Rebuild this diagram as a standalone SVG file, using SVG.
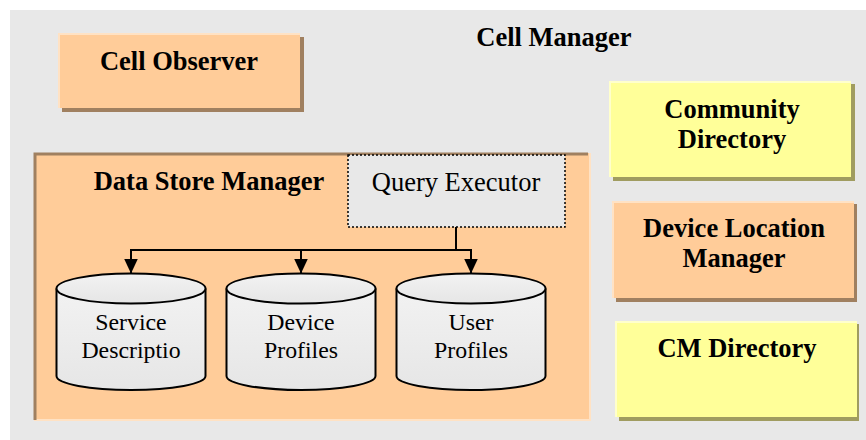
<svg xmlns="http://www.w3.org/2000/svg" width="866" height="440" viewBox="0 0 866 440">
  <style>
    text { font-family: "Liberation Serif", "Times New Roman", Tinos, serif; fill: #000; text-anchor: middle; }
    .bold { font-weight: bold; font-size: 26.5px; }
    .reg { font-size: 26.5px; }
    .cyl-text { font-size: 23.8px; }
    .orange { fill: #ffcc99; }
    .yellow { fill: #ffff99; }
    .shadow-o { fill: #a08060; }
    .shadow-y { fill: #a09c60; }
    .hi-o { stroke: #ffe2c4; stroke-width: 2; fill: none; }
    .hi-y { stroke: #ffffcc; stroke-width: 2; fill: none; }
    .cyl { fill: url(#cylFill); stroke: #000; stroke-width: 2; }
    .wire { stroke: #000; stroke-width: 2; fill: none; }
  </style>
  <defs>
    <linearGradient id="cylFill" x1="0" y1="0" x2="0" y2="1">
      <stop offset="0" stop-color="#f2f2f2"/>
      <stop offset="1" stop-color="#e6e6e6"/>
    </linearGradient>
    <marker id="arrow" viewBox="0 0 15 14" refX="15" refY="7" markerWidth="15" markerHeight="14" markerUnits="userSpaceOnUse" orient="auto">
      <path d="M0,0 L15,7 L0,14 Z" fill="#000"/>
    </marker>
  </defs>

  <!-- Cell Manager container -->
  <g id="cell-manager">
    <rect x="10" y="10" width="856" height="430" fill="#e8e8e8"/>
    <text class="bold" x="554" y="46">Cell Manager</text>
  </g>

  <!-- Cell Observer -->
  <g id="cell-observer">
    <rect class="shadow-o" x="62" y="37" width="242" height="75"/>
    <rect class="orange" x="58" y="33" width="242" height="75"/>
    <path class="hi-o" d="M59,108 V34 H300"/>
    <text class="bold" x="179" y="70">Cell Observer</text>
  </g>

  <!-- Data Store Manager -->
  <g id="data-store-manager">
    <rect class="orange" x="34" y="153" width="556" height="267"/>
    <path d="M590,153 V420 H34" stroke="#ffe2c4" stroke-width="2" fill="none"/>
    <path d="M35,420 V154 H588" stroke="#a08060" stroke-width="3" fill="none"/>
    <text class="bold" x="209" y="190">Data Store Manager</text>
  </g>

  <!-- Query Executor -->
  <g id="query-executor">
    <rect x="348" y="155" width="217" height="72" fill="#e8e8e8" stroke="#000" stroke-width="1.5" stroke-dasharray="2,2"/>
    <text class="reg" x="456" y="191">Query Executor</text>
  </g>

  <!-- Data stores -->
  <g id="service-description">
    <path class="cyl" d="M56.5,288.5 V376 A74.5,14 0 0 0 205.5,376 V288.5"/>
    <ellipse class="cyl" cx="131" cy="288.5" rx="74.5" ry="15"/>
    <text class="cyl-text" x="131" y="330">Service</text>
    <text class="cyl-text" x="131" y="358">Descriptio</text>
  </g>
  <g id="device-profiles">
    <path class="cyl" d="M226.5,288.5 V376 A74.5,14 0 0 0 375.5,376 V288.5"/>
    <ellipse class="cyl" cx="301" cy="288.5" rx="74.5" ry="15"/>
    <text class="cyl-text" x="301" y="330">Device</text>
    <text class="cyl-text" x="301" y="358">Profiles</text>
  </g>
  <g id="user-profiles">
    <path class="cyl" d="M396.5,288.5 V376 A74.5,14 0 0 0 545.5,376 V288.5"/>
    <ellipse class="cyl" cx="471" cy="288.5" rx="74.5" ry="15"/>
    <text class="cyl-text" x="471" y="330">User</text>
    <text class="cyl-text" x="471" y="358">Profiles</text>
  </g>

  <!-- Connectors -->
  <g id="connectors">
    <path class="wire" d="M456,227 V250"/>
    <path class="wire" d="M131,250 H471"/>
    <path class="wire" d="M131,249 V273.5" marker-end="url(#arrow)"/>
    <path class="wire" d="M301,249 V273.5" marker-end="url(#arrow)"/>
    <path class="wire" d="M471,249 V273.5" marker-end="url(#arrow)"/>
  </g>

  <!-- Community Directory -->
  <g id="community-directory">
    <rect class="shadow-y" x="613" y="84" width="242" height="97"/>
    <rect class="yellow" x="609" y="81" width="242" height="96"/>
    <path class="hi-y" d="M610,177 V82 H851"/>
    <text class="bold" x="732" y="118">Community</text>
    <text class="bold" x="732" y="148">Directory</text>
  </g>

  <!-- Device Location Manager -->
  <g id="device-location-manager">
    <rect class="shadow-o" x="616" y="204" width="241" height="98"/>
    <rect class="orange" x="612" y="201" width="242" height="97"/>
    <path class="hi-o" d="M613,298 V202 H854"/>
    <text class="bold" x="734" y="237">Device Location</text>
    <text class="bold" x="734" y="267">Manager</text>
  </g>

  <!-- CM Directory -->
  <g id="cm-directory">
    <rect class="shadow-y" x="619" y="324" width="240" height="97"/>
    <rect class="yellow" x="615" y="321" width="242" height="96"/>
    <path class="hi-y" d="M616,417 V322 H857"/>
    <text class="bold" x="737" y="357">CM Directory</text>
  </g>
</svg>
